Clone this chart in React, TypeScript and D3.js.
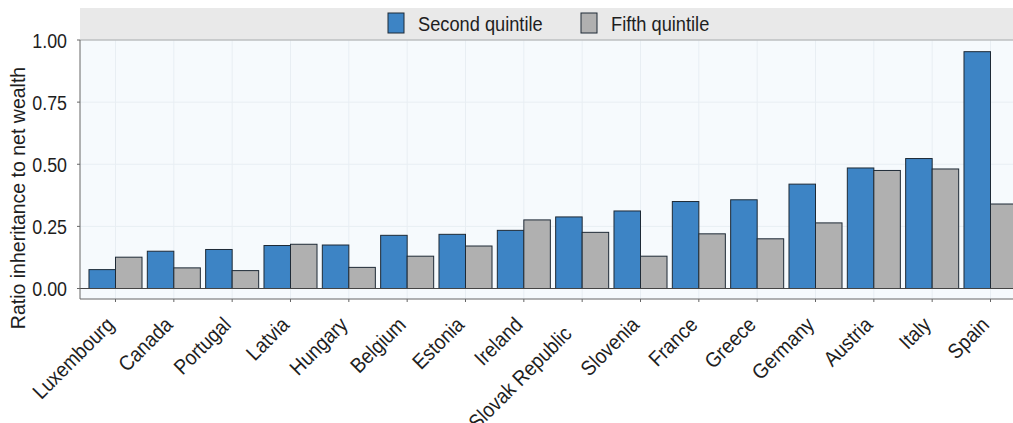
import React from "react";
import * as d3 from "d3";

const countries = ["Luxembourg","Canada","Portugal","Latvia","Hungary","Belgium","Estonia","Ireland","Slovak Republic","Slovenia","France","Greece","Germany","Austria","Italy","Spain"];
const secondQuintile = [0.076,0.150,0.157,0.173,0.175,0.214,0.218,0.234,0.288,0.312,0.350,0.357,0.420,0.485,0.523,0.953];
const fifthQuintile = [0.126,0.083,0.072,0.178,0.085,0.130,0.171,0.276,0.226,0.130,0.220,0.200,0.264,0.475,0.481,0.340];
const seriesNames = ["Second quintile","Fifth quintile"];
const yTicks = [0, 0.25, 0.5, 0.75, 1.0];

const W = 1013, H = 423;
const FONT = "'Liberation Sans', Arial, sans-serif";
const BLUE = "#3d84c5";
const GRAY = "#b0b0b0";
const STROKE = "#1e2a36";
const TXT = "#1e1e1e";

export default function App() {
  const plotLeft = 80, plotTop = 40, plotBottom = 299;
  const y = d3.scaleLinear().domain([0, 1]).range([288.5, 40]);
  const x0 = d3.scaleBand<string>().domain(countries).range([80, 1026]).paddingInner(0.091).paddingOuter(0.154);
  const x1 = d3.scaleBand<string>().domain(seriesNames).range([0, x0.bandwidth()]);
  const data = [secondQuintile, fifthQuintile];
  const colors = [BLUE, GRAY];

  return (
    <svg width={W} height={H} style={{ position: "absolute", left: 0, top: 0, background: "#fff" }} fontFamily={FONT}>
      {/* legend band */}
      <rect x={plotLeft} y={8} width={W - plotLeft} height={32} fill="#e9e9e9" />
      {/* plot background */}
      <rect x={plotLeft} y={plotTop} width={W - plotLeft} height={plotBottom - plotTop} fill="#f6fafd" />
      {/* grid */}
      {yTicks.map((t) => (
        <line key={"gy" + t} x1={plotLeft} x2={W} y1={y(t)} y2={y(t)} stroke="#e8eef3" strokeWidth={1} />
      ))}
      {countries.map((c) => (
        <line key={"gx" + c} x1={x0(c)! + x0.bandwidth() / 2} x2={x0(c)! + x0.bandwidth() / 2} y1={plotTop} y2={plotBottom} stroke="#e8eef3" strokeWidth={1} />
      ))}
      <line x1={plotLeft} x2={W} y1={plotTop} y2={plotTop} stroke="#a8a8a8" strokeWidth={1.2} />
      {/* bars */}
      {countries.map((c, i) => (
        <g key={c} transform={`translate(${x0(c)},0)`}>
          {seriesNames.map((s, j) => (
            <rect key={s} x={x1(s)} y={y(data[j][i])} width={x1.bandwidth()} height={y(0) - y(data[j][i])} fill={colors[j]} stroke={STROKE} strokeWidth={1} />
          ))}
        </g>
      ))}
      {/* zero line */}
      <line x1={plotLeft} x2={W} y1={y(0)} y2={y(0)} stroke="#444" strokeWidth={1} />
      {/* axes */}
      <line x1={plotLeft} x2={plotLeft} y1={plotTop} y2={plotBottom} stroke="#666" strokeWidth={1} />
      <line x1={plotLeft} x2={W} y1={plotBottom} y2={plotBottom} stroke="#666" strokeWidth={1} />
      {yTicks.map((t) => (
        <g key={"yt" + t}>
          <line x1={plotLeft - 3} x2={plotLeft} y1={y(t)} y2={y(t)} stroke="#666" />
          <g transform={`translate(${plotLeft - 13},${y(t)}) scale(0.85,1)`}>
            <text dy="0.36em" textAnchor="end" fontSize={21} fill={TXT}>{t.toFixed(2)}</text>
          </g>
        </g>
      ))}
      {countries.map((c) => {
        const cx = x0(c)! + x0.bandwidth() / 2;
        const extra = c.length > 12 ? 13 : 0;
        const ax = cx - extra * 0.707;
        const ay = 326 + extra * 0.707;
        return (
          <g key={"xt" + c}>
            <line x1={cx} x2={cx} y1={plotBottom} y2={plotBottom + 3} stroke="#666" />
            <g transform={`translate(${ax},${ay}) rotate(-45) scale(0.9,1)`}>
              <text textAnchor="end" fontSize={21} fill={TXT}>{c}</text>
            </g>
          </g>
        );
      })}
      {/* y title */}
      <text transform={`translate(25,${198}) rotate(-90)`} textAnchor="middle" fontSize={19.5} fill={TXT}>Ratio inheritance to net wealth</text>
      {/* legend */}
      <rect x={388} y={13} width={16} height={20} fill={BLUE} stroke={STROKE} />
      <g transform="translate(418,31) scale(0.89,1)">
        <text fontSize={20.5} fill={TXT}>{seriesNames[0]}</text>
      </g>
      <rect x={581} y={13} width={16} height={20} fill={GRAY} stroke={STROKE} />
      <g transform="translate(611,31) scale(0.89,1)">
        <text fontSize={20.5} fill={TXT}>{seriesNames[1]}</text>
      </g>
    </svg>
  );
}
